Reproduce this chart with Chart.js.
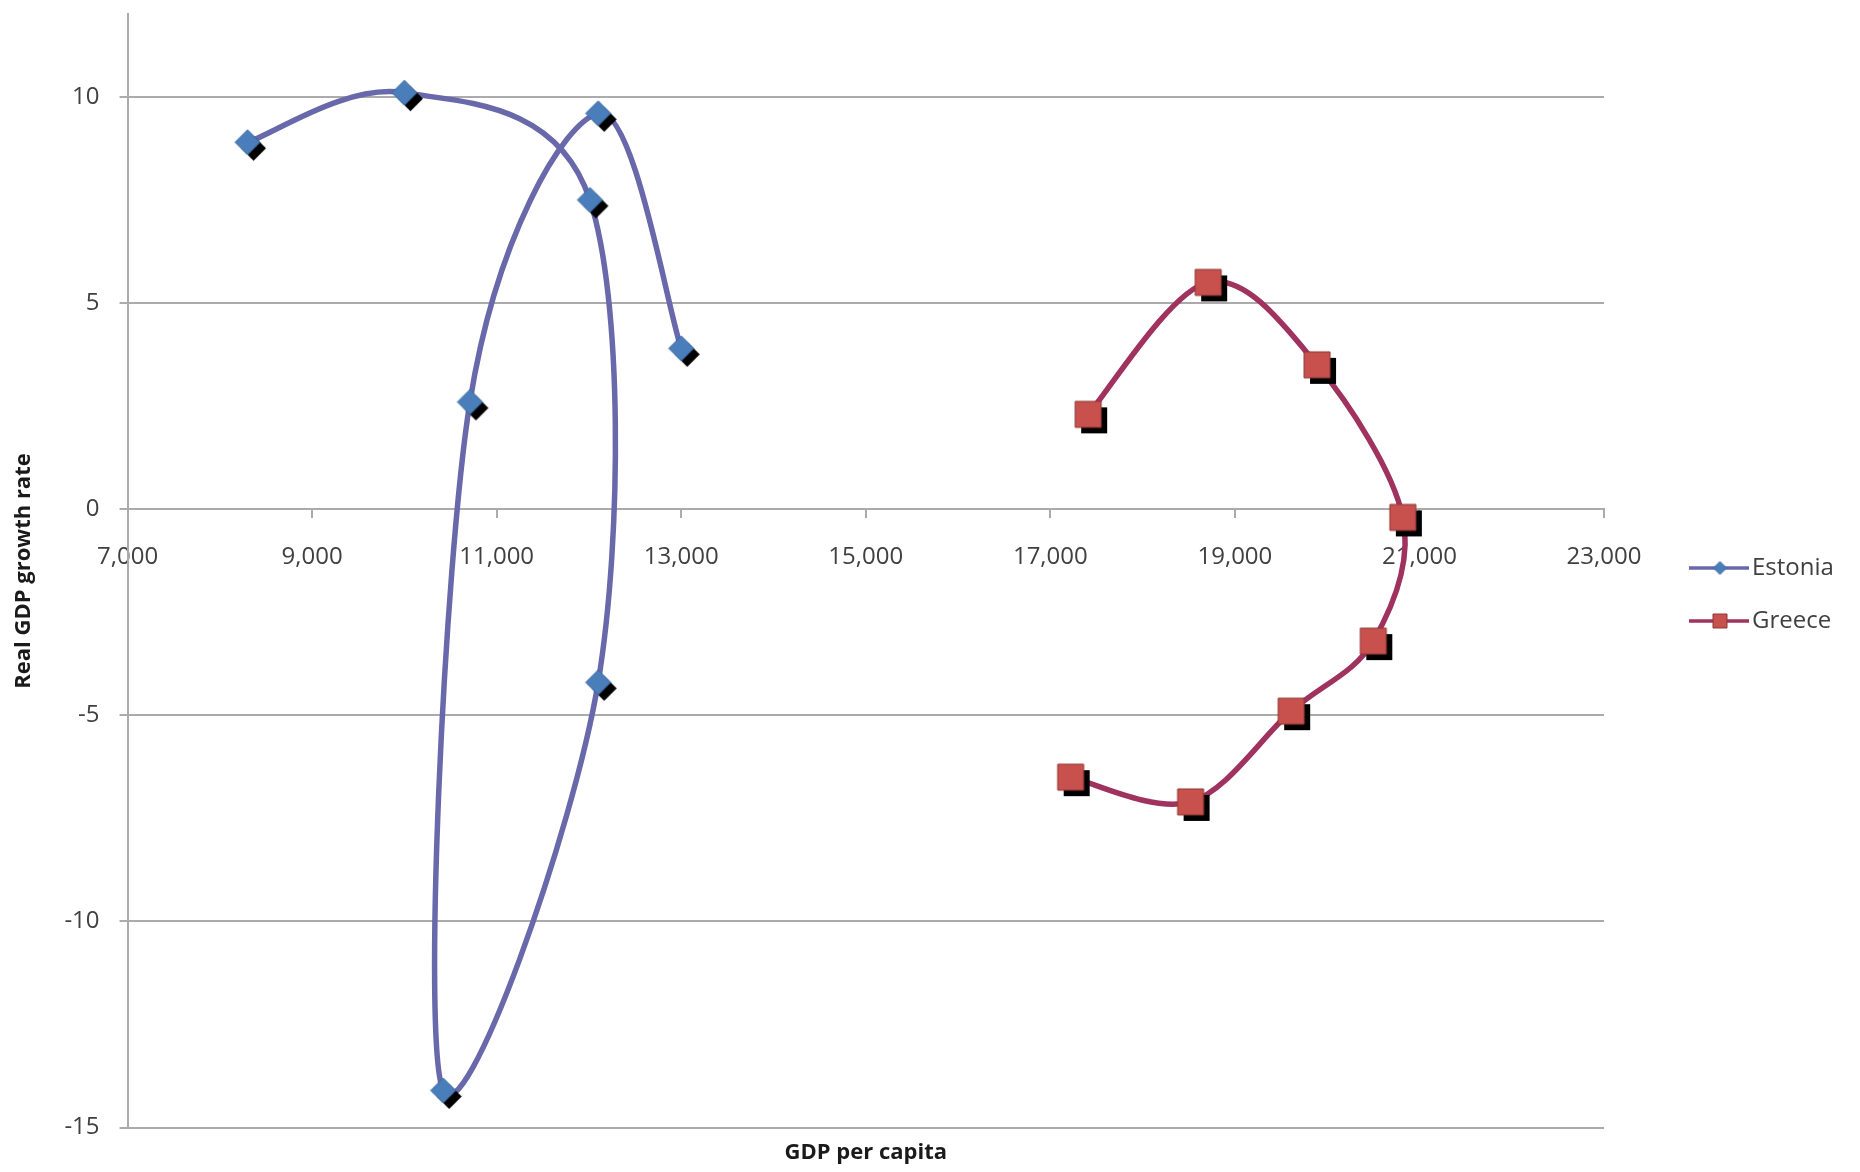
<!DOCTYPE html>
<html>
<head>
<meta charset="utf-8">
<title>GDP per capita vs real GDP growth</title>
<script src="https://cdn.jsdelivr.net/npm/chart.js@4.4.1/dist/chart.umd.min.js"></script>
<style>
  html, body { margin: 0; padding: 0; background: #fff; }
</style>
</head>
<body>
<canvas id="chart" width="1860" height="1172"></canvas>
<script>
// values, in the order the curves are drawn
var estoniaGdp    = [8300, 10000, 12010, 12100, 10420, 10710, 12100, 13000];
var estoniaGrowth = [8.9, 10.1, 7.5, -4.2, -14.1, 2.6, 9.6, 3.9];
var greeceGdp     = [17410, 18710, 19890, 20820, 20500, 19610, 18520, 17220];
var greeceGrowth  = [2.3, 5.5, 3.5, -0.2, -3.2, -4.9, -7.1, -6.5];
var seriesNames   = ['Estonia', 'Greece'];
var xLimits = [7000, 23000];
var yLimits = [-15, 12];
var xStep = 2000;
var yStep = 5;

var gridColor = '#ababab';
var textColor = '#404040';
var fontName = '"Open Sans", "Liberation Sans", sans-serif';

function pairs(xs, ys) {
	return xs.map(function (x, i) { return { x: x, y: ys[i] }; });
}

// marker picture: shape with a black drop shadow to the lower right
function marker(shape, half, fill, edge, off) {
	var c = document.createElement('canvas');
	var s = Math.ceil(2 * (half + off) + 4);
	c.width = s;
	c.height = s;
	var g = c.getContext('2d');
	var m = s / 2;
	function path(cx, cy) {
		g.beginPath();
		if (shape === 'diamond') {
			g.moveTo(cx - half, cy);
			g.lineTo(cx, cy - half);
			g.lineTo(cx + half, cy);
			g.lineTo(cx, cy + half);
		} else {
			g.rect(cx - half, cy - half, 2 * half, 2 * half);
		}
		g.closePath();
	}
	if (off) {
		path(m + off, m + off);
		g.fillStyle = '#000';
		g.fill();
	}
	path(m, m);
	g.fillStyle = fill;
	g.fill();
	g.lineWidth = 1;
	g.strokeStyle = edge;
	g.stroke();
	return c;
}

var lineColors = ['#6868aa', '#a0325f'];
var pointImages = [
	marker('diamond', 12.5, '#4a7ebb', '#3d6aa2', 6),
	marker('square', 13, '#c8504d', '#8c3836', 6)
];
var legendImages = [
	marker('diamond', 6.5, '#4a7ebb', '#3d6aa2', 0),
	marker('square', 7, '#c8504d', '#8c3836', 0)
];

// spreadsheet style smoothing: tangent = (next - prev) / 6 at every point
var evenSmoothing = {
	id: 'evenSmoothing',
	beforeDatasetsDraw: function (chart) {
		chart.data.datasets.forEach(function (ds, i) {
			var meta = chart.getDatasetMeta(i);
			if (!meta.dataset || !meta.dataset.updateControlPoints) return;
			meta.dataset.updateControlPoints(chart.chartArea, 'x');
			var pts = meta.data;
			pts.forEach(function (p, j) {
				var prev = pts[Math.max(j - 1, 0)];
				var next = pts[Math.min(j + 1, pts.length - 1)];
				var tx = (next.x - prev.x) / 6;
				var ty = (next.y - prev.y) / 6;
				p.cp1x = p.x - tx;
				p.cp1y = p.y - ty;
				p.cp2x = p.x + tx;
				p.cp2y = p.y + ty;
			});
		});
	}
};

// legend to the right of the plot: line sample, marker, name
var sideLegend = {
	id: 'sideLegend',
	afterDraw: function (chart) {
		var ctx = chart.ctx;
		var area = chart.chartArea;
		var x0 = area.right + 85;
		var rows = [568, 621];
		ctx.save();
		chart.data.datasets.forEach(function (ds, i) {
			var y = rows[i];
			ctx.strokeStyle = ds.borderColor;
			ctx.lineWidth = 3.5;
			ctx.beginPath();
			ctx.moveTo(x0, y);
			ctx.lineTo(x0 + 60, y);
			ctx.stroke();
			var img = legendImages[i];
			ctx.drawImage(img, x0 + 31 - img.width / 2, y - img.height / 2);
			ctx.fillStyle = textColor;
			ctx.font = '24px ' + fontName;
			ctx.textBaseline = 'middle';
			ctx.textAlign = 'left';
			ctx.fillText(ds.label, x0 + 63, y);
		});
		ctx.restore();
	}
};

var chart = new Chart(document.getElementById('chart'), {
	type: 'scatter',
	data: {
		datasets: [{
			label: seriesNames[0],
			data: pairs(estoniaGdp, estoniaGrowth),
			showLine: true,
			borderColor: lineColors[0],
			borderWidth: 5.5,
			tension: 0.3,
			pointStyle: pointImages[0],
			pointRadius: 12
		}, {
			label: seriesNames[1],
			data: pairs(greeceGdp, greeceGrowth),
			showLine: true,
			borderColor: lineColors[1],
			borderWidth: 5.5,
			tension: 0.3,
			pointStyle: pointImages[1],
			pointRadius: 12
		}]
	},
	options: {
		responsive: false,
		animation: false,
		events: [],
		layout: { autoPadding: false, padding: { left: 11, top: 11, right: 256, bottom: 0 } },
		scales: {
			x: {
				type: 'linear',
				position: { y: 0 },
				min: xLimits[0],
				max: xLimits[1],
				ticks: {
					stepSize: xStep,
					padding: 26,
					maxRotation: 0,
					color: textColor,
					font: { family: fontName, size: 24 }
				},
				grid: { drawOnChartArea: false, drawTicks: true, tickLength: 8, color: gridColor, lineWidth: 2 },
				border: { color: gridColor, width: 2 }
			},
			y: {
				type: 'linear',
				position: 'left',
				min: yLimits[0],
				max: yLimits[1],
				ticks: {
					stepSize: yStep,
					includeBounds: false,
					padding: 0,
					color: textColor,
					font: { family: fontName, size: 24 }
				},
				// long tick slot for the label gap, only the last 8px drawn
				grid: { color: gridColor, lineWidth: 2, tickLength: 28, tickBorderDash: [0, 20, 8, 100] },
				border: { color: gridColor, width: 2 },
				title: {
					display: true,
					text: 'Real GDP growth rate',
					color: '#1a1a1a',
					font: { family: fontName, size: 22, weight: 'bold' },
					padding: { top: 0, bottom: 27 }
				}
			}
		},
		plugins: {
			legend: { display: false },
			tooltip: { enabled: false },
			title: {
				display: true,
				position: 'bottom',
				fullSize: false,
				text: 'GDP per capita',
				color: '#1a1a1a',
				font: { family: fontName, size: 22, weight: 'bold' },
				padding: { top: 12, bottom: 6 }
			}
		}
	},
	plugins: [evenSmoothing, sideLegend]
});
</script>
</body>
</html>
